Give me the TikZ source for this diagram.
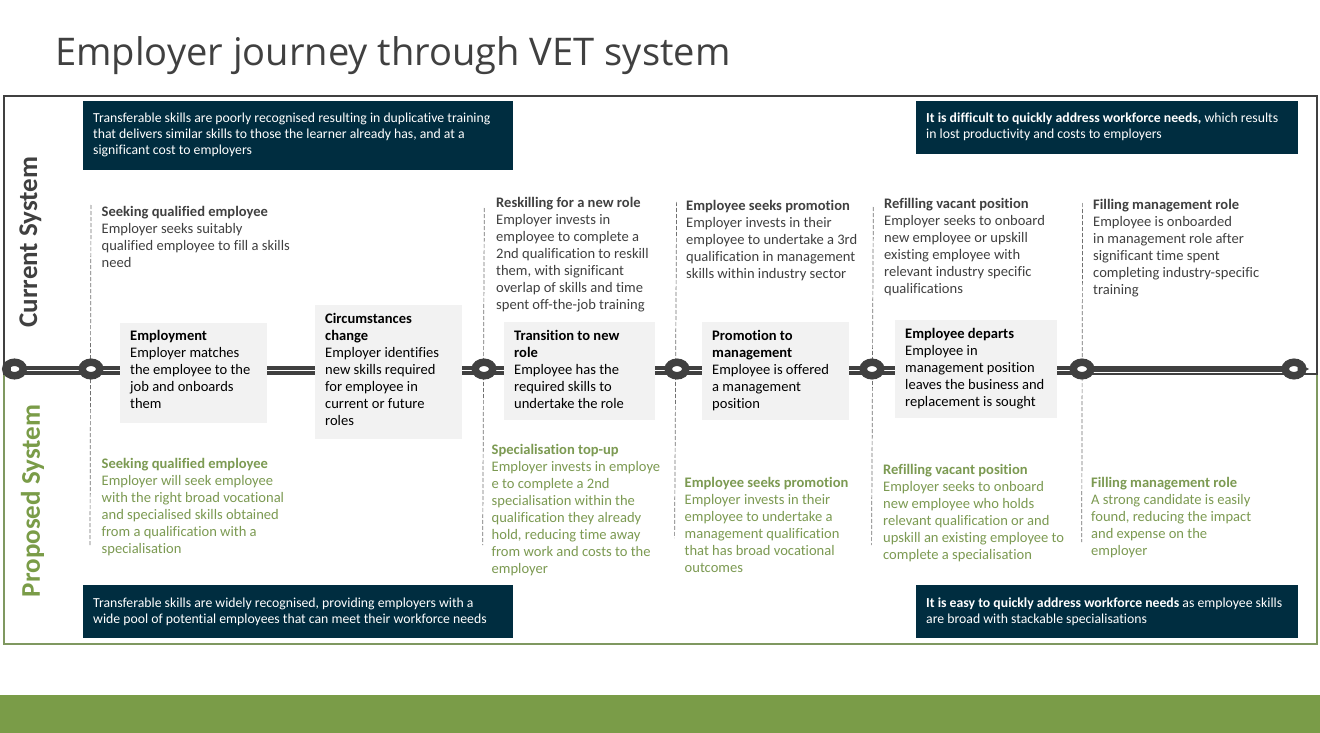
\documentclass[tikz,border=0pt]{standalone}
\usepackage{fontspec}
\setmainfont[Ligatures=NoCommon]{Carlito}
\newfontfamily\titlefont{Open Sans}
\usetikzlibrary{shapes.geometric,backgrounds}
\definecolor{ink}{HTML}{404040}
\definecolor{navy}{HTML}{002D40}
\definecolor{leaf}{HTML}{7A9C48}
\definecolor{leaftext}{HTML}{7C9A52}
\definecolor{leafline}{HTML}{7F9860}
\definecolor{soft}{HTML}{F2F2F2}
\tikzset{
  x=1pt,y=-1pt,
  txt/.style={anchor=north west,inner sep=0pt,align=left,font=\fontsize{14.55}{17}\selectfont},
  cur/.style={txt,text=ink},
  prop/.style={txt,text=leaftext},
  box/.style={anchor=north west,fill=soft,inner sep=0pt},
  banner/.style={fill=navy,draw=none},
  bantxt/.style={txt,text=white,font=\fontsize{13.75}{16}\selectfont},
  stn/.style={ellipse,draw=ink,line width=7.5pt,fill=white,minimum width=17.5pt,minimum height=13.5pt,inner sep=0pt,outer sep=0pt},
  rail/.style={draw=ink,line width=3.75pt,double=white,double distance=1.5pt,transform canvas={yshift=-1.5pt}},
  railheavy/.style={draw=ink,line width=6pt},
  guide/.style={draw=ink!75,line width=.7pt,dash pattern=on 4pt off 2pt},
}
\begin{document}
\begin{tikzpicture}
\useasboundingbox (0,0) rectangle (1320,733);
\node[anchor=west,inner sep=0pt,text=ink,font=\titlefont\fontsize{38.1}{44}\selectfont] (title) at (55,56) {Employer journey through VET system};
\fill[leaf] (0,695) rectangle (1320,733);
\node[rotate=90,inner sep=0pt,text=ink,font=\fontsize{27}{30}\selectfont\bfseries] (lcur) at (30.5,242) {Current System};
\node[rotate=90,inner sep=0pt,text=leaf,font=\fontsize{27}{30}\selectfont\bfseries] (lprop) at (32.5,501) {Proposed System};
% stations
\node[stn] (n0) at (14.5,369) {};
\node[stn] (n1) at (91,369) {};
\node[stn] (n2) at (484,369) {};
\node[stn] (n3) at (677,369) {};
\node[stn] (n4) at (872,369) {};
\node[stn] (n5) at (1082,369) {};
\node[stn] (n6) at (1294,369) {};
\coordinate (tip0) at (2,369);
\coordinate (tip6) at (1309,369);
\fill[ink] (n0.120) -- (tip0) -- (n0.240) -- cycle;
\fill[ink] (n6.60) -- (tip6) -- (n6.-60) -- cycle;
% guide ends
\coordinate (g1t) at (91,205);   \coordinate (g1b) at (90,545);
\coordinate (g2t) at (484.3,208); \coordinate (g2b) at (482.7,545);
\coordinate (g3t) at (676.6,202); \coordinate (g3b) at (674.6,538);
\coordinate (g4t) at (873.3,207); \coordinate (g4b) at (871.6,545);
\coordinate (g5t) at (1082.6,203); \coordinate (g5b) at (1081.7,542);
\begin{pgfonlayer}{background}
\fill[white] (0,0) rectangle (1320,733);
\draw[leafline,line width=2pt] (4,374) -- (4,643.5) -- (1317,643.5) -- (1317,374);
\draw[ink,line width=1.6pt] (4,374) -- (4,96) -- (1317,96) -- (1317,374) -- cycle;
\draw[guide] (g1t) -- (g1b);
\draw[guide] (g2t) -- (g2b);
\draw[guide] (g3t) -- (g3b);
\draw[guide] (g4t) -- (g4b);
\draw[guide] (g5t) -- (g5b);
\draw[rail] (n0) -- (n1);
\draw[rail] (n1) -- (n2);
\draw[rail] (n2) -- (n3);
\draw[rail] (n3) -- (n4);
\draw[rail] (n4) -- (n5);
\draw[railheavy] (n5) -- (n6);
\end{pgfonlayer}
% grey boxes
\node[box,minimum width=147pt,minimum height=100pt] (b1) at (120,323) {};
\node[box,minimum width=147pt,minimum height=134pt] (b2) at (315,305) {};
\node[box,minimum width=151pt,minimum height=98pt] (b3) at (504,322) {};
\node[box,minimum width=147pt,minimum height=98pt] (b4) at (702,322) {};
\node[box,minimum width=162pt,minimum height=98pt] (b5) at (895,320) {};
\node[txt] (tb1) at (130,330) {\textbf{Employment}\\Employer matches\\the employee to the\\job and onboards\\them};
\node[txt] (tb2) at (325,313) {\textbf{Circumstances}\\\textbf{change}\\Employer identifies\\new skills required\\for employee in\\current or future\\roles};
\node[txt] (tb3) at (514,330) {\textbf{Transition to new}\\\textbf{role}\\Employee has the\\required skills to\\undertake the role};
\node[txt] (tb4) at (712,330) {\textbf{Promotion to}\\\textbf{management}\\Employee is offered\\a management\\position};
\node[txt] (tb5) at (905,328) {\textbf{Employee departs}\\Employee in\\management position\\leaves the business and\\replacement is sought};
% banners
\fill[banner] (83,101) rectangle (513,170);
\fill[banner] (916,101) rectangle (1298,154);
\fill[banner] (83,585) rectangle (513,638);
\fill[banner] (916,585) rectangle (1298,638);
\node[bantxt] (t1) at (93,113) {Transferable skills are poorly recognised resulting in duplicative training\\that delivers similar skills to those the learner already has, and at a\\significant cost to employers};
\node[bantxt] (t2) at (926,113) {\textbf{It is difficult to quickly address workforce needs,} which results\\in lost productivity and costs to employers};
\node[bantxt] (t3) at (93,598) {Transferable skills are widely recognised, providing employers with a\\wide pool of potential employees that can meet their workforce needs};
\node[bantxt] (t4) at (926,598) {\textbf{It is easy to quickly address workforce needs} as employee skills\\are broad with stackable specialisations};
% current
\node[cur] (c1) at (101.5,206) {\textbf{Seeking qualified employee}\\Employer seeks suitably\\qualified employee to fill a skills\\need};
\node[cur] (c2) at (496,197) {\textbf{Reskilling for a new role}\\Employer invests in\\employee to complete a\\2nd qualification to reskill\\them, with significant\\overlap of skills and time\\spent off-the-job training};
\node[cur] (c3) at (686,200) {\textbf{Employee seeks promotion}\\Employer invests in their\\employee to undertake a 3rd\\qualification in management\\skills within industry sector};
\node[cur] (c4) at (884,198) {\textbf{Refilling vacant position}\\Employer seeks to onboard\\new employee or upskill\\existing employee with\\relevant industry specific\\qualifications};
\node[cur] (c5) at (1093,199) {\textbf{Filling management role}\\Employee is onboarded\\in management role after\\significant time spent\\completing industry-specific\\training};
% proposed
\node[prop] (p1) at (101.5,458) {\textbf{Seeking qualified employee}\\Employer will seek employee\\with the right broad vocational\\and specialised skills obtained\\from a qualification with a\\specialisation};
\node[prop] (p2) at (491.5,444) {\textbf{Specialisation top-up}\\Employer invests in employe\\e to complete a 2nd\\specialisation within the\\qualification they already\\hold, reducing time away\\from work and costs to the\\employer};
\node[prop] (p3) at (684.5,477) {\textbf{Employee seeks promotion}\\Employer invests in their\\employee to undertake a\\management qualification\\that has broad vocational\\outcomes};
\node[prop] (p4) at (883,464) {\textbf{Refilling vacant position}\\Employer seeks to onboard\\new employee who holds\\relevant qualification or and\\upskill an existing employee to\\complete a specialisation};
\node[prop] (p5) at (1091,477.5) {\textbf{Filling management role}\\A strong candidate is easily\\found, reducing the impact\\and expense on the\\employer};
\end{tikzpicture}
\end{document}
